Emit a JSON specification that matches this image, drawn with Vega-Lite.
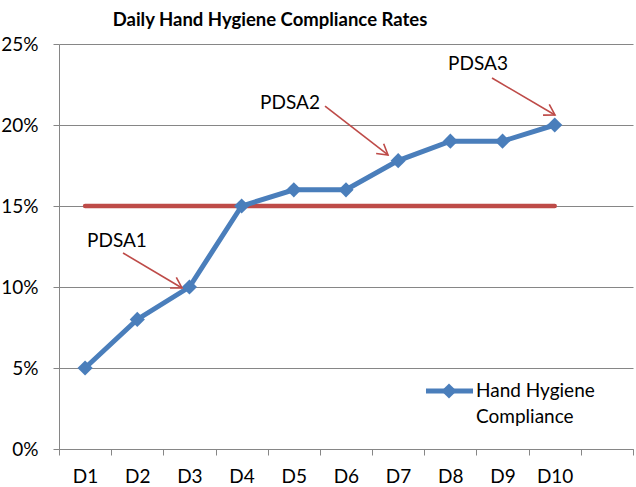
{
  "$schema": "https://vega.github.io/schema/vega-lite/v6.json",
  "width": 574,
  "height": 405,
  "autosize": {"type": "none"},
  "padding": {"left": 59, "top": 44, "right": 3, "bottom": 38},
  "background": "white",
  "config": {"view": {"stroke": null}, "font": "Lato"},
  "title": {
    "text": "Daily Hand Hygiene Compliance Rates",
    "font": "Lato",
    "fontSize": 18.5,
    "fontWeight": "bold",
    "color": "#000000",
    "anchor": "middle",
    "dx": -76,
    "offset": 6
  },
  "datasets": {
    "main": [
      {"day": 1, "rate": 0.05},
      {"day": 2, "rate": 0.08},
      {"day": 3, "rate": 0.10},
      {"day": 4, "rate": 0.15},
      {"day": 5, "rate": 0.16},
      {"day": 6, "rate": 0.16},
      {"day": 7, "rate": 0.178},
      {"day": 8, "rate": 0.19},
      {"day": 9, "rate": 0.19},
      {"day": 10, "rate": 0.20}
    ],
    "target": [
      {"day": 1, "rate": 0.15},
      {"day": 10, "rate": 0.15}
    ],
    "arrows": [
      {"label": "PDSA1", "x1": 1.727, "y1": 0.1210, "x2": 2.857, "y2": 0.0994},
      {"label": "PDSA2", "x1": 5.598, "y1": 0.2117, "x2": 6.805, "y2": 0.1815},
      {"label": "PDSA3", "x1": 8.798, "y1": 0.2290, "x2": 10.005, "y2": 0.2062}
    ],
    "notes": [
      {"label": "PDSA1", "x": 1.611, "y": 0.1284},
      {"label": "PDSA2", "x": 4.927, "y": 0.2136},
      {"label": "PDSA3", "x": 8.530, "y": 0.2377}
    ],
    "legendLine": [
      {"x": 7.533, "y": 0.0358},
      {"x": 8.434, "y": 0.0358}
    ],
    "legendPoint": [
      {"x": 7.974, "y": 0.0358}
    ],
    "legendText": [
      {"x": 8.492, "y": 0.0358, "text": "Hand Hygiene"},
      {"x": 8.492, "y": 0.0198, "text": "Compliance"}
    ]
  },
  "layer": [
    {
      "data": {"name": "target"},
      "mark": {"type": "line", "color": "#BE4B48", "strokeWidth": 4.5, "strokeCap": "round"},
      "encoding": {
        "x": {
          "field": "day",
          "type": "quantitative",
          "scale": {"domain": [0.5, 11.5], "nice": false, "zero": false},
          "axis": {
            "title": null,
            "values": [0.5, 1.5, 2.5, 3.5, 4.5, 5.5, 6.5, 7.5, 8.5, 9.5, 10.5, 11.5],
            "labelExpr": "datum.value < 10 ? 'D' + (datum.value + 0.5) : ''",
            "labelOffset": 26,
            "labelAlign": "center",
            "labelFont": "Lato",
            "labelFontSize": 19,
            "labelColor": "#000000",
            "labelPadding": 12,
            "labelFlush": false,
            "labelOverlap": false,
            "tickColor": "#868686",
            "tickSize": 6,
            "domainColor": "#868686",
            "grid": false
          }
        },
        "y": {
          "field": "rate",
          "type": "quantitative",
          "scale": {"domain": [0, 0.25], "nice": false},
          "axis": {
            "title": null,
            "values": [0, 0.05, 0.1, 0.15, 0.2, 0.25],
            "format": ".0%",
            "labelFont": "Lato",
            "labelFontSize": 19,
            "labelColor": "#000000",
            "labelPadding": 15,
            "tickColor": "#868686",
            "tickSize": 6,
            "domainColor": "#868686",
            "grid": true,
            "gridColor": "#868686",
            "gridOpacity": 1
          }
        }
      }
    },
    {
      "data": {"name": "main"},
      "mark": {"type": "line", "color": "#4A7EBB", "strokeWidth": 5, "point": {"shape": "diamond", "size": 230, "filled": true, "color": "#4A7EBB"}},
      "encoding": {
        "x": {"field": "day", "type": "quantitative"},
        "y": {"field": "rate", "type": "quantitative"}
      }
    },
    {
      "data": {"name": "arrows"},
      "mark": {"type": "rule", "color": "#BE4B48", "strokeWidth": 1.6},
      "encoding": {
        "x": {"field": "x1", "type": "quantitative"},
        "y": {"field": "y1", "type": "quantitative"},
        "x2": {"field": "x2"},
        "y2": {"field": "y2"}
      }
    },
    {
      "data": {"name": "arrows"},
      "transform": [
        {"calculate": "atan2((datum.y1 - datum.y2) * 1620, (datum.x2 - datum.x1) * 52.18) * 180 / PI", "as": "ang"}
      ],
      "mark": {"type": "point", "shape": "M-1,-0.6L0,0L-1,0.6", "filled": false, "color": "#BE4B48", "strokeWidth": 1.6, "size": 420, "opacity": 1},
      "encoding": {
        "x": {"field": "x2", "type": "quantitative"},
        "y": {"field": "y2", "type": "quantitative"},
        "angle": {"field": "ang", "type": "quantitative", "scale": null}
      }
    },
    {
      "data": {"name": "notes"},
      "mark": {"type": "text", "font": "Lato", "fontSize": 19, "color": "#000000", "align": "center", "baseline": "middle"},
      "encoding": {
        "x": {"field": "x", "type": "quantitative"},
        "y": {"field": "y", "type": "quantitative"},
        "text": {"field": "label"}
      }
    },
    {
      "data": {"name": "legendLine"},
      "mark": {"type": "line", "color": "#4A7EBB", "strokeWidth": 5},
      "encoding": {
        "x": {"field": "x", "type": "quantitative"},
        "y": {"field": "y", "type": "quantitative"}
      }
    },
    {
      "data": {"name": "legendPoint"},
      "mark": {"type": "point", "shape": "diamond", "size": 230, "filled": true, "color": "#4A7EBB", "opacity": 1},
      "encoding": {
        "x": {"field": "x", "type": "quantitative"},
        "y": {"field": "y", "type": "quantitative"}
      }
    },
    {
      "data": {"name": "legendText"},
      "mark": {"type": "text", "font": "Lato", "fontSize": 19, "color": "#000000", "align": "left", "baseline": "middle"},
      "encoding": {
        "x": {"field": "x", "type": "quantitative"},
        "y": {"field": "y", "type": "quantitative"},
        "text": {"field": "text"}
      }
    }
  ]
}
